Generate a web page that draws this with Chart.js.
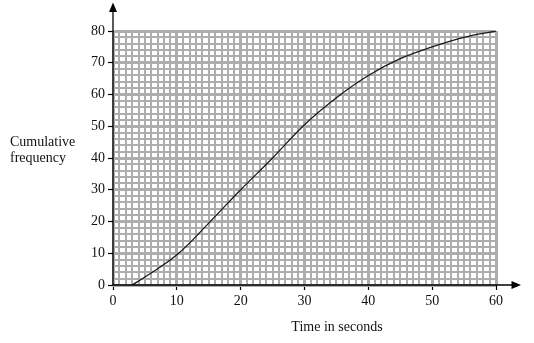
<!DOCTYPE html>
<html>
<head>
<meta charset="utf-8">
<script src="https://cdn.jsdelivr.net/npm/chart.js@4/dist/chart.umd.min.js"></script>
<style>
  html, body { margin: 0; padding: 0; background: #fff; }
  canvas { display: block; }
</style>
</head>
<body>
<canvas id="c" width="534" height="343"></canvas>
<script>
// Cumulative frequency curve: time (s) against cumulative frequency
const timeSeconds         = [3, 5,   10,  15,   20, 25, 30,   35, 40, 45,   50, 55, 60];
const cumulativeFrequency = [0, 2.5, 9.5, 19.5, 30, 40, 50.5, 59, 66, 71.3, 75, 78, 80];

const xTickLabels = ['0', '10', '20', '30', '40', '50', '60'];
const yTickLabels = ['0', '10', '20', '30', '40', '50', '60', '70', '80'];
const xAxisTitle = 'Time in seconds';
const yAxisTitle = ['Cumulative', 'frequency'];

const SERIF = "'Liberation Serif', 'Times New Roman', serif";
const TEXT = '#111';
const GRID = '#adadad';

const isMajor = v => Math.abs(v % 10) < 1e-9;

// Axis lines with arrowheads and the axis captions
const axesPlugin = {
  id: 'axesArrows',
  afterDraw(chart) {
    const { ctx, scales: { x, y } } = chart;
    const x0 = x.getPixelForValue(0);
    const y0 = y.getPixelForValue(0);
    ctx.save();
    ctx.strokeStyle = '#000';
    ctx.fillStyle = '#000';
    ctx.lineWidth = 1.3;
    // vertical axis
    ctx.beginPath();
    ctx.moveTo(x0, y0);
    ctx.lineTo(x0, 10);
    ctx.stroke();
    ctx.beginPath();
    ctx.moveTo(x0, 2.5);
    ctx.lineTo(x0 - 4, 12);
    ctx.lineTo(x0 + 4, 12);
    ctx.closePath();
    ctx.fill();
    // horizontal axis
    ctx.beginPath();
    ctx.moveTo(x0, y0);
    ctx.lineTo(514, y0);
    ctx.stroke();
    ctx.beginPath();
    ctx.moveTo(521, y0);
    ctx.lineTo(511.5, y0 - 4);
    ctx.lineTo(511.5, y0 + 4);
    ctx.closePath();
    ctx.fill();

    // captions
    ctx.fillStyle = TEXT;
    ctx.font = '14px ' + SERIF;
    ctx.textBaseline = 'alphabetic';
    ctx.textAlign = 'center';
    ctx.fillText(xAxisTitle, 337, 331);
    ctx.textAlign = 'left';
    ctx.fillText(yAxisTitle[0], 10, 146);
    ctx.fillText(yAxisTitle[1], 10, 161.5);
    ctx.restore();
  }
};

new Chart(document.getElementById('c'), {
  type: 'line',
  data: {
    datasets: [{
      data: timeSeconds.map((t, i) => ({ x: t, y: cumulativeFrequency[i] })),
      borderColor: '#1a1a1a',
      borderWidth: 1.3,
      pointRadius: 0,
      fill: false,
      tension: 0.4
    }]
  },
  options: {
    responsive: false,
    animation: false,
    devicePixelRatio: 1,
    layout: { padding: { top: 31, right: 38, left: 0, bottom: 0 } },
    plugins: { legend: { display: false }, tooltip: { enabled: false } },
    scales: {
      x: {
        type: 'linear',
        min: 0, max: 60,
        afterFit(scale) { scale.height = 58; },
        border: { display: false },
        grid: {
          color: GRID,
          lineWidth: c => isMajor(c.tick.value) ? 3 : 2,
          tickLength: 5,
          tickColor: c => isMajor(c.tick.value) ? '#000' : 'rgba(0,0,0,0)',
          tickWidth: 1.2
        },
        ticks: {
          stepSize: 1,
          autoSkip: false,
          maxRotation: 0,
          padding: 3,
          color: TEXT,
          font: { family: SERIF, size: 14 },
          callback: v => xTickLabels.includes(String(v)) ? String(v) : ''
        }
      },
      y: {
        type: 'linear',
        min: 0, max: 80,
        afterFit(scale) { scale.width = 113; },
        border: { display: false },
        grid: {
          color: GRID,
          lineWidth: c => isMajor(c.tick.value) ? 3 : 2,
          tickLength: 5,
          tickColor: c => isMajor(c.tick.value) ? '#000' : 'rgba(0,0,0,0)',
          tickWidth: 1.2
        },
        ticks: {
          stepSize: 2,
          autoSkip: false,
          padding: 3,
          color: TEXT,
          font: { family: SERIF, size: 14 },
          callback: v => yTickLabels.includes(String(v)) ? String(v) : ''
        }
      }
    }
  },
  plugins: [axesPlugin]
});
</script>
</body>
</html>
